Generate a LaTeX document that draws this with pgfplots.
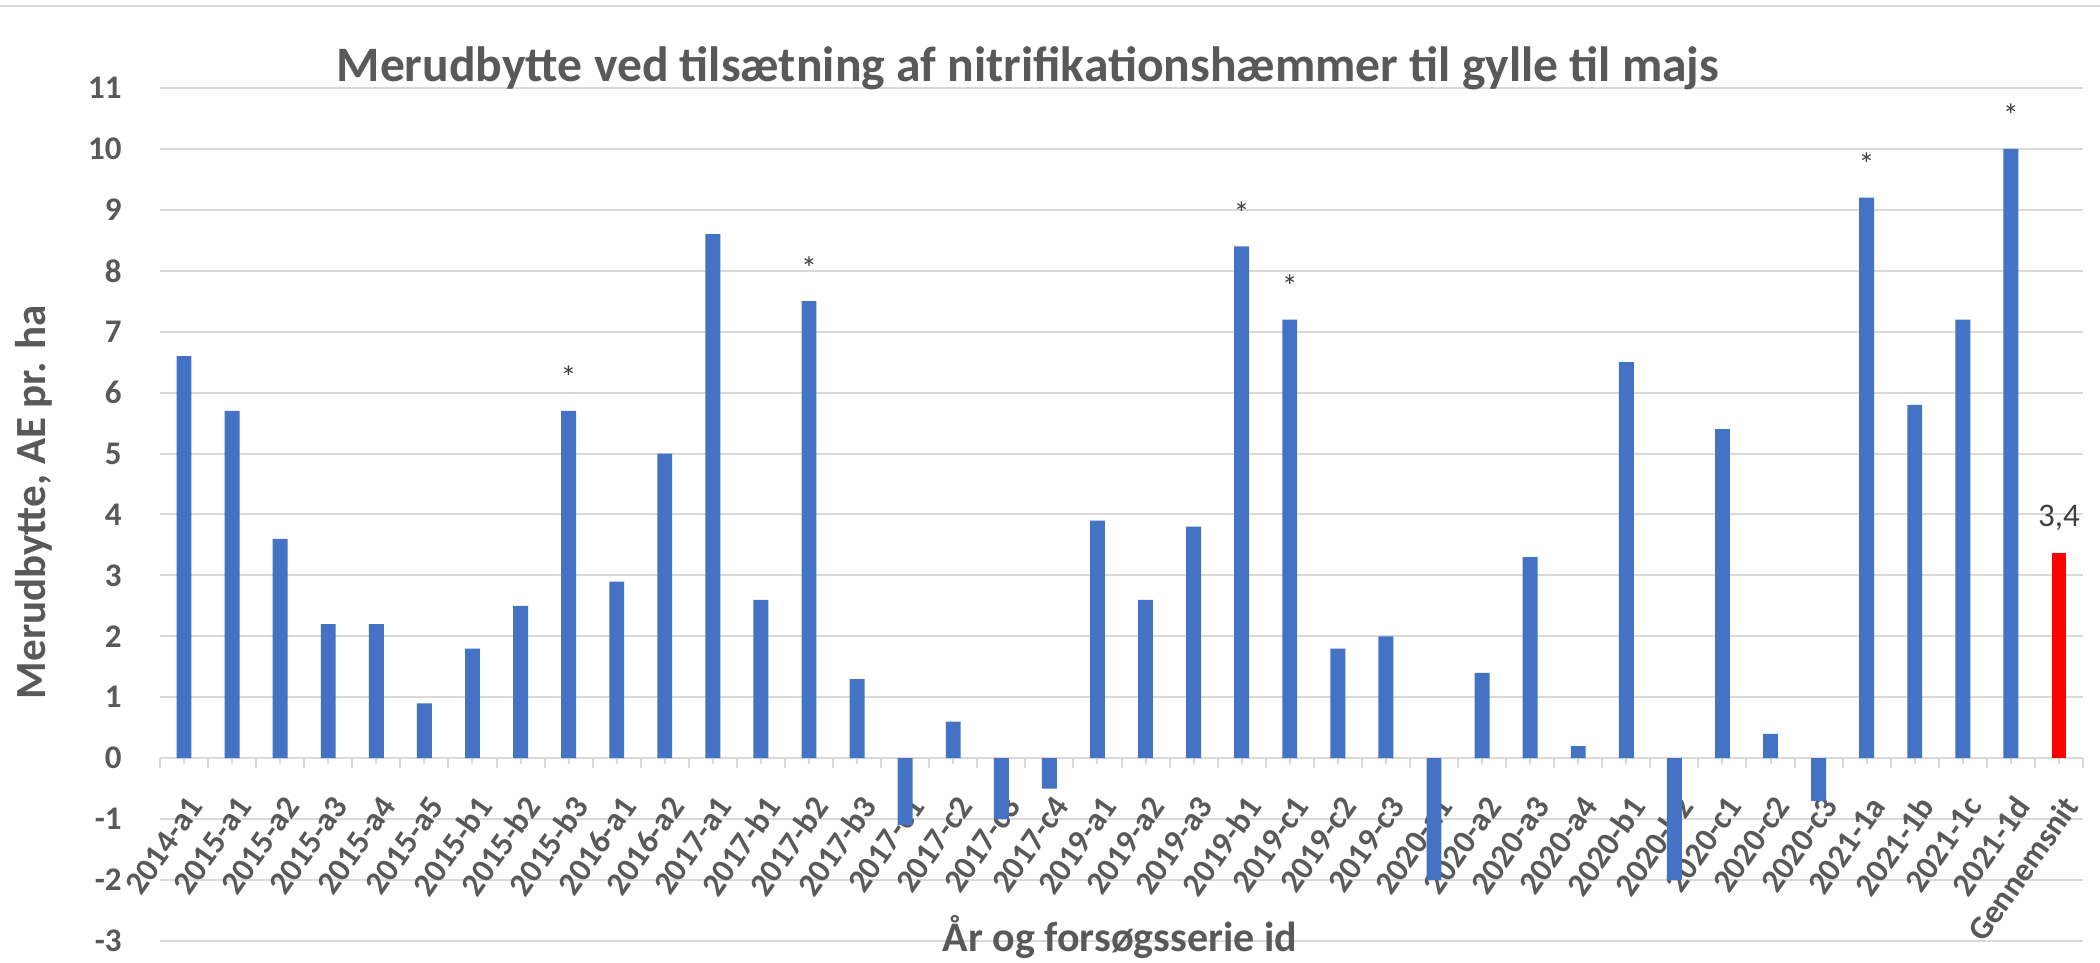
\documentclass[border=0pt]{standalone}
\usepackage{fontspec}
\setmainfont{Carlito}
\usepackage{pgfplots}
\usepackage{pgfplotstable}
\pgfplotsset{compat=1.18}
\definecolor{txt}{HTML}{595959}
\definecolor{txtd}{HTML}{404040}
\definecolor{gridc}{HTML}{D9D9D9}
\definecolor{barblue}{HTML}{4472C4}

\pgfplotstableread{
x y
0 6.6
1 5.7
2 3.6
3 2.2
4 2.2
5 0.9
6 1.8
7 2.5
8 5.7
9 2.9
10 5.0
11 8.6
12 2.6
13 7.5
14 1.3
15 -1.1
16 0.6
17 -1.0
18 -0.5
19 3.9
20 2.6
21 3.8
22 8.4
23 7.2
24 1.8
25 2.0
26 -2.0
27 1.4
28 3.3
29 0.2
30 6.5
31 -2.0
32 5.4
33 0.4
34 -0.7
35 9.2
36 5.8
37 7.2
38 10.0
}\blue

\pgfplotstableread{
x y
39 3.37
}\mean

\pgfplotstableread{
x y
8 5.7
13 7.5
22 8.4
23 7.2
35 9.2
38 10.0
}\stars

\begin{document}
\begin{tikzpicture}
\path[use as bounding box] (0,0) rectangle (1050pt,481.5pt);
\fill[white] (0,0) rectangle (1050pt,481.5pt);
\draw[gridc, line width=1pt] (0,478.5pt) -- (1050pt,478.5pt);
\begin{axis}[
  at={(80pt,11pt)}, anchor=south west,
  scale only axis, width=961.5pt, height=426.5pt,
  xmin=-0.5, xmax=39.5, ymin=-3, ymax=11,
  axis x line*=middle, axis y line*=left,
  hide obscured x ticks=false, hide obscured y ticks=false,
  y axis line style={draw=none},
  x axis line style={gridc, line width=1pt},
  ytick={-3,...,11},
  ymajorgrids, grid style={gridc, line width=1pt},
  ytick style={draw=none},
  xtick={0,...,39},
  minor xtick={-0.5,0.5,...,39.5},
  xtick style={gridc, line width=1pt},
  minor tick style={gridc, line width=1pt},
  tick align=outside,
  major tick length=3pt, minor tick length=5pt,
  xticklabels={2014-a1,2015-a1,2015-a2,2015-a3,2015-a4,2015-a5,2015-b1,2015-b2,2015-b3,2016-a1,2016-a2,2017-a1,2017-b1,2017-b2,2017-b3,2017-c1,2017-c2,2017-c3,2017-c4,2019-a1,2019-a2,2019-a3,2019-b1,2019-c1,2019-c2,2019-c3,2020-a1,2020-a2,2020-a3,2020-a4,2020-b1,2020-b2,2020-c1,2020-c2,2020-c3,2021-1a,2021-1b,2021-1c,2021-1d,Gennemsnit},
  xticklabel style={font=\bfseries\fontsize{16.5}{16.5}\selectfont, text=txt, inner sep=0pt, xshift=6pt, yshift=-18pt, rotate=55, anchor=east},
  yticklabel style={font=\bfseries\fontsize{16.5}{16.5}\selectfont, text=txt, inner sep=0pt, anchor=east, xshift=-16pt},
  /pgf/number format/assume math mode=true,
  clip=false,
]
\addplot[ybar, bar width=0.31, bar shift=0pt, fill=barblue, draw=none] table[x=x,y=y] {\blue};
\addplot[ybar, bar width=0.31, bar shift=0pt, fill=red, draw=none,
  nodes near coords,
  nodes near coords style={anchor=base, yshift=13pt, inner sep=0pt, text=txtd, font=\fontsize{16.5}{16.5}\selectfont,
    /pgf/number format/.cd, fixed, precision=1, use comma, assume math mode=true}] table[x=x,y=y] {\mean};
\addplot[draw=none, mark=none, nodes near coords={*},
  nodes near coords style={anchor=base, yshift=11pt, inner sep=0pt, text=txtd, font=\fontsize{16}{16}\selectfont}] table[x=x,y=y] {\stars};
\end{axis}
\node[anchor=base, font=\bfseries\fontsize{24.8}{24.8}\selectfont, text=txt] at (514pt,440.5pt) {Merudbytte ved tilsætning af nitrifikationshæmmer til gylle til majs};
\node[anchor=base, font=\bfseries\fontsize{21}{21}\selectfont, text=txt] at (560pt,5.5pt) {År og forsøgsserie id};
\node[anchor=base, rotate=90, font=\bfseries\fontsize{21.5}{21.5}\selectfont, text=txt] at (22.5pt,230.5pt) {Merudbytte, AE pr. ha};
\end{tikzpicture}
\end{document}
